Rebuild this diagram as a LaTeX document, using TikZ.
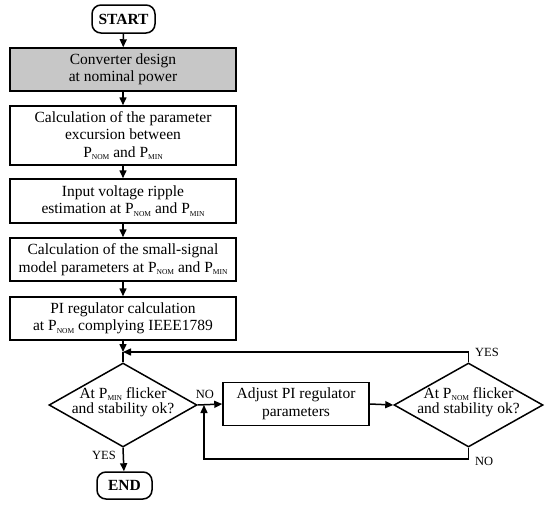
\documentclass[tikz,border=0pt]{standalone}
\usepackage{fontspec}
\setmainfont{Liberation Serif}
\usetikzlibrary{arrows.meta,shapes.geometric}
\newcommand{\Ps}[1]{P\raisebox{-0.35ex}{\fontsize{7.5}{7.5}\selectfont #1}}
\tikzset{
  box/.style={draw, line width=1.5pt, minimum width=226pt, align=center, inner sep=0pt,
    font=\fontsize{15.5}{17.5}\selectfont},
  term/.style={draw, line width=1.5pt, rounded corners=9pt, align=center, inner sep=0pt,
    font=\fontsize{15.5}{17}\selectfont\bfseries},
  dia/.style={draw, diamond, line width=1.5pt, inner sep=0pt, minimum width=148pt, minimum height=84pt},
  dtext/.style={align=center, font=\fontsize{15.5}{15}\selectfont},
  lab/.style={font=\fontsize{12.5}{13}\selectfont, inner sep=0pt},
  conn/.style={line width=1.5pt},
  arr/.style={conn, -{Triangle[length=8pt,width=7pt]}}
}
\begin{document}
\begin{tikzpicture}[x=1pt,y=-1pt]
\useasboundingbox (0,0) rectangle (550,507);
\node[term, minimum width=63pt, minimum height=28pt] (start) at (123.5,19) {START};
\node[box, fill=black!22, minimum height=43pt] (b1) at (123,69.5) {Converter design\\at nominal power};
\node[box, minimum height=59pt] (b2) at (123,135.5) {Calculation of the parameter\\excursion between\\\Ps{NOM} and \Ps{MIN}};
\node[box, minimum height=44pt] (b3) at (123,201) {Input voltage ripple\\estimation at \Ps{NOM} and \Ps{MIN}};
\node[box, minimum height=43pt] (b4) at (123,259.5) {Calculation of the small-signal\\model parameters at \Ps{NOM} and \Ps{MIN}};
\node[box, minimum height=43pt] (b5) at (123,318.5) {PI regulator calculation\\at \Ps{NOM} complying IEEE1789};
\coordinate (m1) at (123,352);
\node[dia] (d1) at (123,405) {};
\node[dtext] (t1) at (123,402) {At \Ps{MIN} flicker\\and stability ok?};
\node[box, minimum width=146pt, minimum height=43pt] (adj) at (296,404) {Adjust PI regulator\\parameters};
\node[dia, minimum width=149pt] (d2) at (468.5,405) {};
\node[dtext] (t2) at (468.5,402) {At \Ps{NOM} flicker\\and stability ok?};
\node[term, minimum width=55pt, minimum height=27pt] (end) at (124.5,485.5) {END};
\coordinate (m2) at (204,405);
\coordinate (c1) at (468.5,352);
\coordinate (c2) at (468.5,459);
\coordinate (c3) at (204,459);

\draw[arr] (start) -- (b1);
\draw[arr] (b1) -- (b2);
\draw[arr] (b2) -- (b3);
\draw[arr] (b3) -- (b4);
\draw[arr] (b4) -- (b5);
\draw[arr] (b5) -- (m1);
\draw[conn] (m1) -- (d1.north);
\draw[arr] (d2.north) -- (c1) -- (m1);
\draw[arr] (d1.east) -- (adj.west);
\draw[arr] (adj.east) -- (d2.west);
\draw[arr] (d2.south) -- (c2) -- (c3) -- (m2);
\draw[arr] (d1.south) -- (end);

\node[lab] (yes1) at (104,455) {YES};
\node[lab] (no1) at (205,394) {NO};
\node[lab, anchor=west] (yes2) at (475,352) {YES};
\node[lab, anchor=west] (no2) at (475,461) {NO};
\end{tikzpicture}
\end{document}
